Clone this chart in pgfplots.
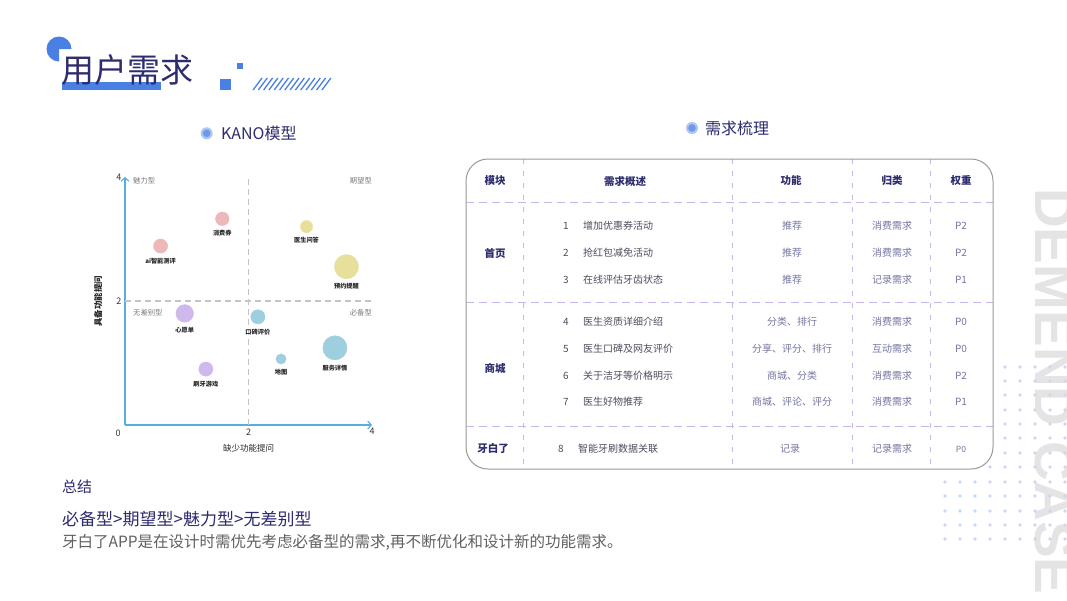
\documentclass[border=0pt]{standalone}
\usepackage{fontspec}
\setmainfont{Noto Sans CJK SC}
\newfontfamily\lsans{Liberation Sans}
\usepackage{pgfplots}
\pgfplotsset{compat=1.18}
\usetikzlibrary{arrows.meta}

\definecolor{navy}{HTML}{2D2C6E}
\definecolor{accent}{HTML}{4A7FE3}
\definecolor{axblue}{HTML}{55AEE2}
\definecolor{bpink}{HTML}{EDB8BA}
\definecolor{byellow}{HTML}{E9DF9D}
\definecolor{bpurple}{HTML}{CFB9EC}
\definecolor{bblue}{HTML}{9ECFDF}
\definecolor{tdash}{HTML}{C8B6EA}
\definecolor{tborder}{HTML}{9A9A9A}
\definecolor{rowtxt}{HTML}{4D4D60}
\definecolor{valtxt}{HTML}{7575A2}
\definecolor{dotc}{HTML}{C9D8F6}
\definecolor{wm}{HTML}{E4E4E4}
\definecolor{guide}{HTML}{C4C4C4}
\definecolor{qlab}{HTML}{7A7A7A}

\pgfplotsset{
  bub/.style 2 args={
    color=#1, only marks, mark=*, mark size=#2pt,
    mark options={solid, draw=#1, fill=#1, line width=0.4pt},
    point meta=explicit symbolic,
    nodes near coords,
    every node near coord/.append style={anchor=north, yshift=-#2pt-4.7pt, inner sep=0pt,
      font=\fontsize{6.2}{7}\bfseries\selectfont, text=black!85},
  }
}

\begin{document}
\begin{tikzpicture}
\path[use as bounding box] (0pt,0pt) rectangle (1067pt,-600pt);
\fill[white] (0pt,0pt) rectangle (1067pt,-600pt);

\begin{scope}[x=1pt,y=-1pt]
  % watermark
  \begin{scope}
    \clip (0,0) rectangle (1067,600);
    \node[rotate=-90, anchor=base west, inner sep=0pt, text=wm,
      font=\lsans\bfseries\fontsize{55}{60}\selectfont] at (1035,188) {DEMEND CASE};
  \end{scope}
  % dot grid
  \foreach \y in {367,381,395,410,424,438,453} {
    \foreach \x in {1005,1020,1035,1050,1065} { \fill[dotc] (\x,\y) circle (1.8); }
  }
  \foreach \x in {990,1005,1020,1035,1050,1065} { \fill[dotc] (\x,467) circle (1.8); }
  \foreach \y in {482,496,511,525,539} {
    \foreach \x in {945,960,975,990,1005,1020,1035,1050,1065} { \fill[dotc] (\x,\y) circle (1.8); }
  }

  % title decoration
  \fill[accent] (59,49) -- ++(90:12.5) arc[start angle=90, end angle=360, radius=12.5] -- cycle;
  \fill[accent] (62,82) rectangle (161,90);
  \node[anchor=west, inner sep=0pt, text=navy, font=\fontsize{33}{36}\selectfont] at (61,70) {用户需求};
  \fill[accent] (220,79) rectangle (231,90);
  \fill[accent] (237,63) rectangle (243,69);
  \foreach \i in {0,...,13} { \draw[accent, line width=1.3pt] ({253+5.3*\i},90) -- ++(9,-12); }

  % section headings
  \fill[color=accent!45] (206.7,133.3) circle (6);
  \fill[color=accent!80!white] (206.7,133.3) circle (3.8);
  \node[anchor=west, inner sep=0pt, text=navy, font=\fontsize{16}{18}\selectfont] at (221,133) {KANO模型};
  \fill[color=accent!45] (692,128) circle (6);
  \fill[color=accent!80!white] (692,128) circle (3.8);
  \node[anchor=west, inner sep=0pt, text=navy, font=\fontsize{16}{18}\selectfont] at (705,128) {需求梳理};

  % table
  \foreach \x in {523,732,852,930} { \draw[tdash, line width=1pt, dash pattern=on 5pt off 7pt] (\x,159) -- (\x,469); }
  \foreach \y in {202,302,426} { \draw[tdash, line width=1pt, dash pattern=on 8pt off 5pt] (466,\y) -- (993,\y); }
  \draw[tborder, line width=1pt, rounded corners=22pt] (466,159) rectangle (993,469);

  \begin{scope}[every node/.style={inner sep=0pt, text=navy, font=\fontsize{10.5}{12}\bfseries\selectfont}]
    \node at (495,181) {模块};
    \node at (625,181) {需求概述};
    \node at (791,181) {功能};
    \node at (892,181) {归类};
    \node at (961,181) {权重};
    \node at (495,253) {首页};
    \node at (495,368) {商城};
    \node at (493,448) {牙白了};
  \end{scope}

  \foreach \y/\n/\d/\f/\c/\p in {226/1/增加优惠券活动/推荐/消费需求/P2,
      253/2/抢红包减免活动/推荐/消费需求/P2,
      280/3/在线评估牙齿状态/推荐/记录需求/P1,
      322/4/医生资质详细介绍/分类、排行/消费需求/P0,
      349/5/医生口碑及网友评价/分享、评分、排行/互动需求/P0,
      376/6/关于洁牙等价格明示/商城、分类/消费需求/P2,
      402/7/医生好物推荐/商城、评论、评分/消费需求/P1} {
    \node[inner sep=0pt, text=rowtxt, font=\fontsize{10}{12}\selectfont] at (566,\y) {\n};
    \node[anchor=west, inner sep=0pt, text=rowtxt, font=\fontsize{10}{12}\selectfont] at (583,\y) {\d};
    \node[inner sep=0pt, text=valtxt, font=\fontsize{10}{12}\selectfont] at (792,\y) {\f};
    \node[inner sep=0pt, text=valtxt, font=\fontsize{10}{12}\selectfont] at (892,\y) {\c};
    \node[inner sep=0pt, text=valtxt, font=\fontsize{10}{12}\selectfont] at (961,\y) {\p};
  }
  \node[inner sep=0pt, text=rowtxt, font=\fontsize{10}{12}\selectfont] at (561,449) {8};
  \node[anchor=west, inner sep=0pt, text=rowtxt, font=\fontsize{10}{12}\selectfont] at (578,449) {智能牙刷数据关联};
  \node[inner sep=0pt, text=valtxt, font=\fontsize{10}{12}\selectfont] at (790,449) {记录};
  \node[inner sep=0pt, text=valtxt, font=\fontsize{10}{12}\selectfont] at (892,449) {记录需求};
  \node[inner sep=0pt, text=valtxt, font=\fontsize{8.5}{10}\selectfont] at (961,449) {P0};

  % summary
  \node[anchor=west, inner sep=0pt, text=navy, font=\fontsize{15}{17}\selectfont] at (62,487) {总结};
  \node[anchor=west, inner sep=0pt, text=navy, font=\fontsize{17}{19}\selectfont] at (62,519) {必备型>期望型>魅力型>无差别型};
  \node[anchor=west, inner sep=0pt, text=black!62, font=\fontsize{15.5}{17}\selectfont] at (62,542) {牙白了APP是在设计时需优先考虑必备型的需求,再不断优化和设计新的功能需求。};
\end{scope}

\begin{axis}[
  at={(125pt,-425pt)}, anchor=south west,
  scale only axis, width=247pt, height=248pt,
  xmin=0, xmax=4, ymin=0, ymax=4,
  axis lines*=left,
  axis line style={draw=axblue, line width=1.1pt, -{Straight Barb[length=3.5pt,width=8pt]}},
  xtick={2,4}, ytick={2,4},
  major tick length=0pt,
  extra x ticks={2}, extra y ticks={2},
  extra x tick labels={}, extra y tick labels={},
  extra tick style={grid=major, grid style={guide, line width=1.2pt, dash pattern=on 6pt off 4pt}},
  tick label style={font=\fontsize{9}{10}\selectfont, text=black!80},
  /pgf/number format/assume math mode=true,
  clip=false,
]
\addplot[bub={bpink}{6.8}]    coordinates {(1.576,3.326)[消费券]};
\addplot[bub={bpink}{7.1}]    coordinates {(0.576,2.886)[ai智能测评]};
\addplot[bub={byellow}{6.1}]  coordinates {(2.940,3.200)[医生问答]};
\addplot[bub={byellow}{12.1}] coordinates {(3.587,2.554)[预约提醒]};
\addplot[bub={bpurple}{8.8}]  coordinates {(0.967,1.800)[心愿单]};
\addplot[bub={bpurple}{7.1}]  coordinates {(1.310,0.902)[刷牙游戏]};
\addplot[bub={bblue}{7.1}]    coordinates {(2.152,1.745)[口碑评价]};
\addplot[bub={bblue}{12.1}]   coordinates {(3.400,1.245)[服务详情]};
\addplot[bub={bblue}{5.1}]    coordinates {(2.527,1.065)[地图]};

\node[inner sep=0pt, font=\fontsize{9}{10}\selectfont, text=black!80] at (axis cs:-0.110,-0.134) {0};
\node[inner sep=0pt, font=\fontsize{8.5}{10}\selectfont, text=black!85] at (axis cs:2,-0.371) {缺少功能提问};
\node[inner sep=0pt, rotate=90, font=\fontsize{8.5}{10}\bfseries\selectfont, text=black!85] at (axis cs:-0.437,2) {具备功能提问};
\begin{scope}[every node/.style={inner sep=0pt, font=\fontsize{7.3}{8}\selectfont, text=qlab}]
\node[anchor=west] at (axis cs:0.13,3.935) {魅力型};
\node[anchor=east] at (axis cs:4,3.935) {期望型};
\node[anchor=west] at (axis cs:0.13,1.806) {无差别型};
\node[anchor=east] at (axis cs:4,1.806) {必备型};
\end{scope}
\end{axis}
\end{tikzpicture}
\end{document}
